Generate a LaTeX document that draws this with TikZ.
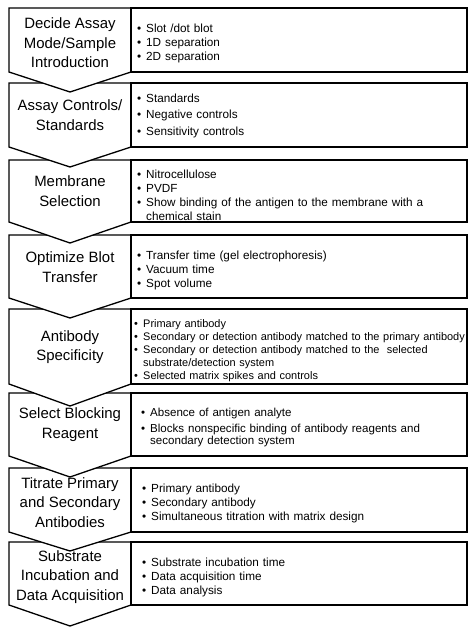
\documentclass[tikz,border=0pt]{standalone}
\usepackage{fontspec}
\setmainfont{Liberation Sans}
\newcommand{\bitm}[1]{\par\hangindent=9bp\hangafter=1\noindent\makebox[9bp][l]{\textbullet}#1\par}
\begin{document}
\begin{tikzpicture}[x=1bp,y=-1bp,
  chev/.style={draw=black,fill=white,line width=1.3bp,line join=miter},
  infobox/.style={draw=black,line width=1.8bp},
  title/.style={align=center,font=\fontsize{15}{19.5}\selectfont,inner sep=0pt},
  items/.style={anchor=west,inner sep=0pt,text width=330bp,align=left,font=\fontsize{11.8}{14}\selectfont}]
\useasboundingbox[fill=white] (0,0) rectangle (476,632);
% chevrons, bottom first so that each tip lies over the next step
\foreach \t/\b/\p in {542/605/626, 468/532/551, 393/456/477, 309/384/406, 235/298/318, 160/222/243, 83/147/167, 8/72/92}{
  \draw[chev] (9,\t) -- (131,\t) -- (131,\b) -- (70,\p) -- (9,\b) -- cycle;
}
% boxes
\foreach \t/\b in {8/72, 83/147, 160/222, 235/298, 309/384, 393/456, 468/532, 542/605}{
  \draw[infobox] (131,\t) rectangle (467,\b);
}
% titles
\node[title] (t1) at (70,43) {Decide Assay\\Mode/Sample\\Introduction};
\node[title] (t2) at (70,115) {Assay Controls/\\Standards};
\node[title] (t3) at (70,191) {Membrane\\Selection};
\node[title] (t4) at (70,267) {Optimize Blot\\Transfer};
\node[title] (t5) at (70,347) {Antibody\\Specificity};
\node[title] (t6) at (70,424.5) {Select Blocking\\Reagent};
\node[title] (t7) at (70,502.5) {Titrate Primary\\and Secondary\\Antibodies};
\node[title] (t8) at (70,577) {Substrate\\Incubation and\\Data Acquisition};
% bullet lists
\node[items] (l1) at (137,41) {\bitm{Slot /dot blot}\bitm{1D separation}\bitm{2D separation}};
\node[items,font=\fontsize{11.8}{16.5}\selectfont] (l2) at (137,112) {\bitm{Standards}\bitm{Negative controls}\bitm{Sensitivity controls}};
\node[items] (l3) at (137,192.5) {\bitm{Nitrocellulose}\bitm{PVDF}\bitm{Show binding of the antigen to the membrane with a\newline chemical stain}};
\node[items] (l4) at (137,268) {\bitm{Transfer time (gel electrophoresis)}\bitm{Vacuum time}\bitm{Spot volume}};
\node[items,font=\fontsize{11}{13.2}\selectfont,text width=335bp] (l5) at (134,348) {\bitm{Primary antibody}\bitm{Secondary or detection antibody matched to the primary antibody}\bitm{Secondary or detection antibody matched to the\ \ selected\newline substrate/detection system}\bitm{Selected matrix spikes and controls}};
\node[items,font=\fontsize{11.6}{12.8}\selectfont] (l6) at (141,424) {\setlength{\parskip}{3bp}\bitm{Absence of antigen analyte}\bitm{Blocks nonspecific binding of antibody reagents and\newline secondary detection system}};
\node[items] (l7) at (142,501) {\bitm{Primary antibody}\bitm{Secondary antibody}\bitm{Simultaneous titration with matrix design}};
\node[items] (l8) at (142,574.5) {\bitm{Substrate incubation time}\bitm{Data acquisition time}\bitm{Data analysis}};
\end{tikzpicture}
\end{document}
